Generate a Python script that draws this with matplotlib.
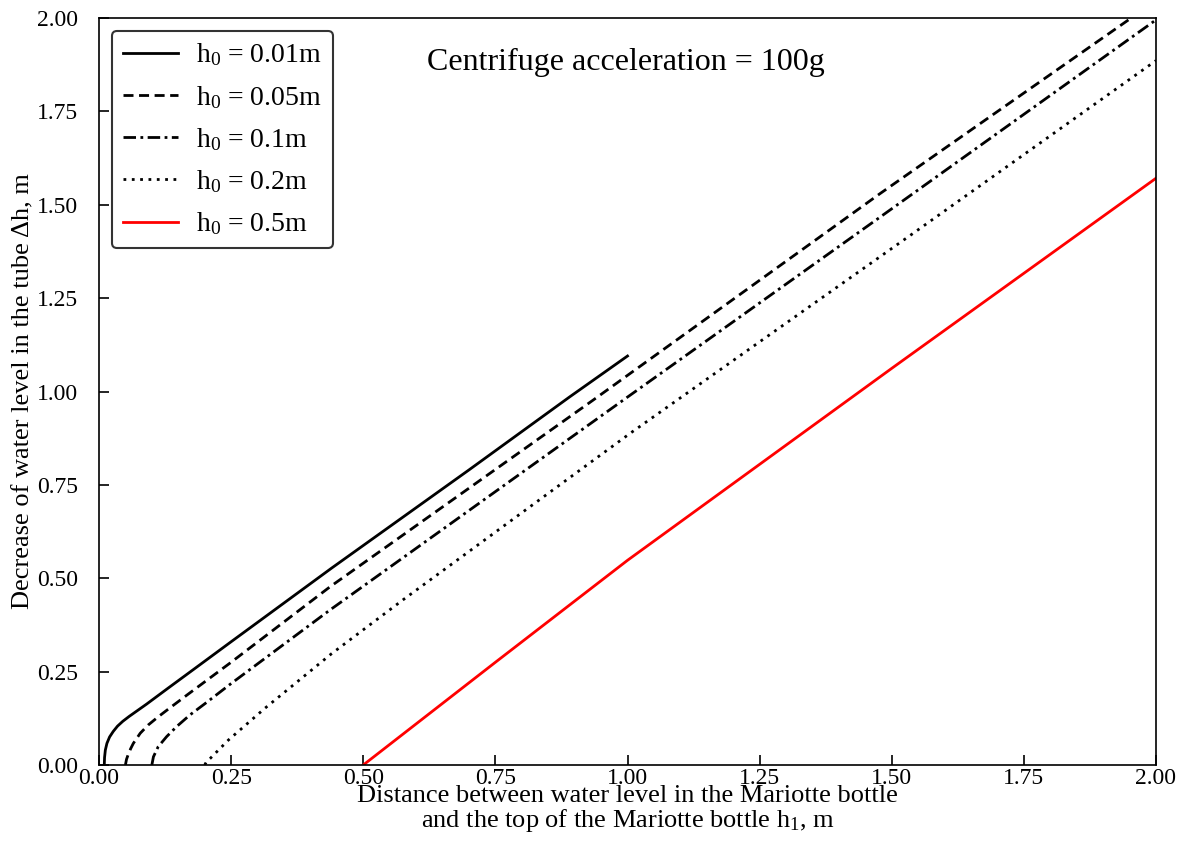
import numpy as np
import matplotlib
matplotlib.use("Agg")
import matplotlib.pyplot as plt

plt.rcParams["font.family"] = ["Liberation Serif", "DejaVu Serif"]
plt.rcParams["mathtext.fontset"] = "custom"
plt.rcParams["mathtext.rm"] = "Liberation Serif"
plt.rcParams["mathtext.it"] = "Liberation Serif:italic"

# values
# h0 = 0.01 m
x_001 = [0.010, 0.0105, 0.012, 0.015, 0.020, 0.027, 0.035, 0.045, 0.057, 0.072, 0.090, 0.130, 0.180, 0.250, 0.440, 0.700, 0.890, 1.000]
y_001 = [0.000, 0.020, 0.040, 0.058, 0.075, 0.090, 0.104, 0.117, 0.130, 0.145, 0.163, 0.205, 0.257, 0.330, 0.527, 0.790, 0.985, 1.095]
# h0 = 0.05 m
x_005 = [0.050, 0.052, 0.055, 0.060, 0.065, 0.078, 0.093, 0.112, 0.137, 0.169, 0.207, 0.248, 0.437, 0.935, 1.478, 1.952, 2.000]
y_005 = [0.000, 0.015, 0.027, 0.044, 0.058, 0.085, 0.107, 0.129, 0.156, 0.190, 0.230, 0.273, 0.477, 0.977, 1.530, 1.999, 2.047]
# h0 = 0.1 m
x_01 = [0.100, 0.103, 0.112, 0.128, 0.147, 0.172, 0.204, 0.248, 0.437, 0.992, 1.478, 2.000]
y_01 = [0.000, 0.022, 0.049, 0.076, 0.103, 0.134, 0.168, 0.216, 0.415, 0.977, 1.467, 1.995]
# h0 = 0.2 m
x_02 = [0.200, 0.203, 0.210, 0.245, 0.314, 0.440, 0.575, 1.005, 1.535, 2.000]
y_02 = [0.000, 0.008, 0.017, 0.067, 0.152, 0.298, 0.442, 0.888, 1.418, 1.886]
# h0 = 0.5 m
x_05 = [0.500, 0.750, 1.000, 1.500, 2.000]
y_05 = [0.000, 0.275, 0.548, 1.062, 1.571]

ticks = [0.00, 0.25, 0.50, 0.75, 1.00, 1.25, 1.50, 1.75, 2.00]

fig = plt.figure(figsize=(11.85, 8.61), dpi=100)
ax = fig.add_axes([99 / 1185, 1 - 765 / 861, 1057 / 1185, 747 / 861])

lw = 2.0
ax.plot(x_001, y_001, color="black", lw=lw, label=r"$\mathrm{h_0}$ = 0.01m")
ax.plot(x_005, y_005, color="black", lw=lw, dashes=(3.6, 2.0), label=r"$\mathrm{h_0}$ = 0.05m")
ax.plot(x_01, y_01, color="black", lw=lw, dashes=(4.5, 1.6, 1.0, 1.6), label=r"$\mathrm{h_0}$ = 0.1m")
ax.plot(x_02, y_02, color="black", lw=lw, dashes=(1.0, 2.0), label=r"$\mathrm{h_0}$ = 0.2m")
ax.plot(x_05, y_05, color="red", lw=lw, label=r"$\mathrm{h_0}$ = 0.5m")

ax.set_xlim(0, 2)
ax.set_ylim(0, 2)
ax.set_xticks(ticks)
ax.set_yticks(ticks)
ax.set_xticklabels([f"{t:.2f}" for t in ticks])
ax.set_yticklabels([f"{t:.2f}" for t in ticks])
ax.tick_params(direction="in", length=7, width=1.2, labelsize=17)
ax.tick_params(axis="x", pad=2)
ax.tick_params(axis="y", pad=15)
for s in ax.spines.values():
    s.set_linewidth(1.2)

ax.set_xlabel("Distance between water level in the Mariotte bottle\n"
              r"and the top of the Mariotte bottle $\mathrm{h_1}$, m",
              fontsize=19, labelpad=-3, linespacing=1.0)
ax.set_ylabel("Decrease of water level in the tube Δh, m", fontsize=19, labelpad=2)

ax.text(0.498, 0.941, "Centrifuge acceleration = 100g", transform=ax.transAxes,
        ha="center", va="center", fontsize=23)

leg = ax.legend(loc="upper left", fontsize=20, handlelength=2.0, handletextpad=0.65,
                labelspacing=0.55, borderaxespad=0.45, fancybox=True, framealpha=1)
leg.get_frame().set_edgecolor("#333333")
leg.get_frame().set_linewidth(1.5)

fig.savefig("out.png", dpi=100)
